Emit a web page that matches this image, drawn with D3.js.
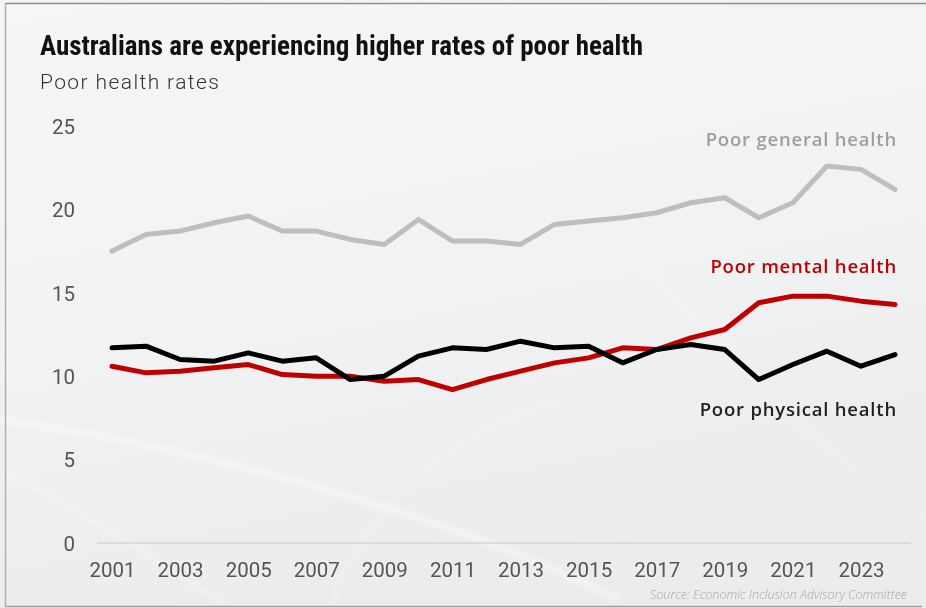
<!DOCTYPE html>
<html>
<head>
<meta charset="utf-8">
<script src="https://cdn.jsdelivr.net/npm/d3@7"></script>
<style>
  html, body { margin: 0; padding: 0; background: #ffffff; }
  svg { display: block; }
</style>
</head>
<body>
<svg id="chart" width="926" height="608"></svg>
<script>
// ---- Data ----
const years = [2001,2002,2003,2004,2005,2006,2007,2008,2009,2010,2011,2012,
               2013,2014,2015,2016,2017,2018,2019,2020,2021,2022,2023,2024];
const poorGeneral  = [17.5,18.5,18.7,19.2,19.6,18.7,18.7,18.2,17.9,19.4,18.1,18.1,
                      17.9,19.1,19.3,19.5,19.8,20.4,20.7,19.5,20.4,22.6,22.4,21.2];
const poorMental   = [10.6,10.2,10.3,10.5,10.7,10.1,10.0,10.0,9.7,9.8,9.2,9.8,
                      10.3,10.8,11.1,11.7,11.6,12.3,12.8,14.4,14.8,14.8,14.5,14.3];
const poorPhysical = [11.7,11.8,11.0,10.9,11.4,10.9,11.1,9.8,10.0,11.2,11.7,11.6,
                      12.1,11.7,11.8,10.8,11.6,11.9,11.6,9.8,10.7,11.5,10.6,11.3];
const xTickValues = [2001,2003,2005,2007,2009,2011,2013,2015,2017,2019,2021,2023];
const yTickValues = [0,5,10,15,20,25];
const seriesNames = ["Poor general health","Poor mental health","Poor physical health"];
const seriesColors = ["#bebebe","#c00000","#000000"];

const titleText = "Australians are experiencing higher rates of poor health";
const subtitleText = "Poor health rates";
const sourceText = "Source: Economic Inclusion Advisory Committee";

// ---- Setup ----
const W = 926, H = 608;
const svg = d3.select("#chart");

// background
const defs = svg.append("defs");
const bg = defs.append("linearGradient").attr("id","bg")
  .attr("x1","0").attr("y1","0").attr("x2","0.3").attr("y2","1");
bg.append("stop").attr("offset","0").attr("stop-color","#f6f6f6");
bg.append("stop").attr("offset","0.55").attr("stop-color","#f1f2f3");
bg.append("stop").attr("offset","1").attr("stop-color","#ebeced");
svg.append("rect").attr("width",W).attr("height",H).attr("fill","url(#bg)");

// subtle swooshes
const blur = defs.append("filter").attr("id","soft");
blur.append("feGaussianBlur").attr("stdDeviation",2);
const swoosh = svg.append("g").attr("fill","none").attr("stroke","#ffffff").attr("filter","url(#soft)");
swoosh.append("path").attr("d","M0,420 C150,440 420,500 620,600").attr("stroke-width",8).attr("opacity",0.35);
swoosh.append("path").attr("d","M0,470 C100,520 170,570 230,608").attr("stroke-width",4).attr("opacity",0.3);
swoosh.append("path").attr("d","M330,608 C360,520 430,440 560,400").attr("stroke-width",4).attr("opacity",0.25);
swoosh.append("path").attr("d","M620,240 C700,330 800,440 926,520").attr("stroke-width",5).attr("opacity",0.2);

// frame
svg.append("line").attr("x1",5).attr("x2",926).attr("y1",3.5).attr("y2",3.5).attr("stroke","#8c8c8c").attr("stroke-width",1.5);
svg.append("line").attr("x1",5.5).attr("x2",5.5).attr("y1",3).attr("y2",606).attr("stroke","#b0b0b0").attr("stroke-width",1.5);
svg.append("line").attr("x1",5).attr("x2",922).attr("y1",606.5).attr("y2",606.5).attr("stroke","#a0a0a0").attr("stroke-width",1.5);

// scales
const x = d3.scaleLinear().domain([2001,2024]).range([112,895]);
const y = d3.scaleLinear().domain([0,25]).range([543,126]);

// title & subtitle
svg.append("text").attr("x",40).attr("y",54.5)
  .attr("font-family","'Liberation Sans Narrow','Roboto Condensed','Liberation Sans',sans-serif")
  .attr("font-weight",700).attr("font-size",27).attr("fill","#111")
  .attr("textLength",603).attr("lengthAdjust","spacingAndGlyphs")
  .text(titleText);
svg.append("text").attr("x",40).attr("y",88.5)
  .attr("font-family","Roboto, sans-serif").attr("font-weight",300)
  .attr("font-size",21).attr("letter-spacing",1.4).attr("fill","#333")
  .text(subtitleText);

// baseline at 0
svg.append("line")
  .attr("x1",97).attr("x2",911)
  .attr("y1",y(0)).attr("y2",y(0))
  .attr("stroke","#d4d4d4").attr("stroke-width",1.5);

// axes
const yAxis = d3.axisLeft(y).tickValues(yTickValues).tickSize(0).tickPadding(0);
const gy = svg.append("g").attr("transform","translate(75,0)").call(yAxis);
gy.select(".domain").remove();
gy.selectAll("text").attr("font-family","Roboto, sans-serif").attr("font-size",20.5)
  .attr("fill","#555").attr("dy","0.36em");

const xAxis = d3.axisBottom(x).tickValues(xTickValues).tickFormat(d3.format("d")).tickSize(0).tickPadding(19.5);
const gx = svg.append("g").attr("transform",`translate(0,${y(0)})`).call(xAxis);
gx.select(".domain").remove();
gx.selectAll("text").attr("font-family","Roboto, sans-serif").attr("font-size",20.5)
  .attr("fill","#555");

// lines
const seriesData = [poorGeneral, poorMental, poorPhysical];
const line = d3.line().x((d,i)=>x(years[i])).y(d=>y(d));
svg.append("g").selectAll("path").data(seriesData).join("path")
  .attr("d", d=>line(d))
  .attr("fill","none")
  .attr("stroke",(d,i)=>seriesColors[i])
  .attr("stroke-width",5)
  .attr("stroke-linejoin","round")
  .attr("stroke-linecap","round");

// series labels (right aligned)
const labelY = [146, 272.5, 416];
const labelFill = ["#9e9e9e","#c00000","#222222"];
svg.append("g").selectAll("text").data(seriesNames).join("text")
  .attr("x",897).attr("y",(d,i)=>labelY[i])
  .attr("text-anchor","end")
  .attr("font-family","'Open Sans', sans-serif").attr("font-weight",600)
  .attr("font-size",18.5).attr("letter-spacing",0.8)
  .attr("fill",(d,i)=>labelFill[i])
  .text(d=>d);

// source
svg.append("text").attr("x",907).attr("y",599)
  .attr("text-anchor","end")
  .attr("font-family","'Open Sans', sans-serif").attr("font-style","italic").attr("font-weight",300)
  .attr("font-size",12.5).attr("fill","#a8a8a8")
  .text(sourceText);
</script>
</body>
</html>
